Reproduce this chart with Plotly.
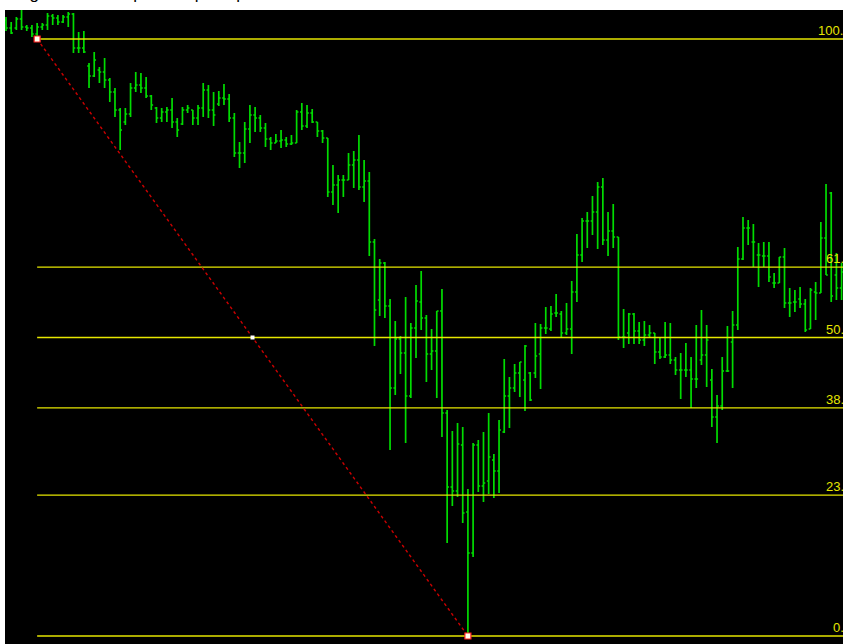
import plotly.graph_objects as go

# ---- data (bar index, OHLC prices) ----
bar_index = list(range(162))

open_ = [1.3416,1.3408,1.3408,1.3417,1.3409,1.3408,1.3402,1.3409,1.3411,1.3420,
         1.3418,1.3414,1.3419,1.3422,1.3388,1.3388,1.3370,1.3360,1.3366,1.3364,
         1.3356,1.3344,1.3326,1.3314,1.3322,1.3348,1.3351,1.3348,1.3340,1.3328,
         1.3318,1.3324,1.3326,1.3314,1.3312,1.3326,1.3326,1.3318,1.3328,1.3346,
         1.3326,1.3332,1.3338,1.3337,1.3318,1.3283,1.3283,1.3307,1.3321,1.3318,
         1.3308,1.3297,1.3293,1.3295,1.3296,1.3292,1.3293,1.3324,1.3310,1.3323,
         1.3314,1.3305,1.3298,1.3244,1.3251,1.3256,1.3256,1.3271,1.3276,1.3249,
         1.3255,1.3194,1.3136,1.3173,1.3130,1.3048,1.3097,1.3083,1.3040,1.3108,
         1.3134,1.3118,1.3082,1.3085,1.3125,1.3023,1.2949,1.2945,1.2991,1.2924,
         1.2883,1.2991,1.2950,1.2955,1.2976,1.2965,1.3004,1.3040,1.3048,1.3063,
         1.3056,1.3063,1.3063,1.3082,1.3108,1.3107,1.3123,1.3122,1.3103,1.3107,
         1.3144,1.3181,1.3215,1.3215,1.3224,1.3249,1.3196,1.3205,1.3199,1.3099,
         1.3103,1.3122,1.3105,1.3096,1.3101,1.3103,1.3084,1.3079,1.3081,1.3076,
         1.3066,1.3066,1.3066,1.3057,1.3076,1.3081,1.3056,1.3019,1.3030,1.3065,
         1.3094,1.3111,1.3177,1.3208,1.3194,1.3181,1.3180,1.3180,1.3153,1.3153,
         1.3179,1.3133,1.3134,1.3137,1.3132,1.3107,1.3144,1.3143,1.3198,1.3243,
         1.3161,1.3148]

high = [1.3419,1.3414,1.3419,1.3426,1.3411,1.3411,1.3413,1.3413,1.3423,1.3422,
        1.3421,1.3421,1.3424,1.3423,1.3404,1.3405,1.3373,1.3384,1.3369,1.3378,
        1.3358,1.3348,1.3328,1.3328,1.3353,1.3364,1.3363,1.3359,1.3341,1.3329,
        1.3328,1.3329,1.3338,1.3318,1.3329,1.3331,1.3326,1.3331,1.3353,1.3351,
        1.3344,1.3345,1.3352,1.3342,1.3323,1.3294,1.3314,1.3331,1.3329,1.3321,
        1.3313,1.3299,1.3302,1.3306,1.3299,1.3301,1.3326,1.3333,1.3331,1.3327,
        1.3314,1.3306,1.3298,1.3271,1.3261,1.3261,1.3283,1.3285,1.3301,1.3276,
        1.3264,1.3197,1.3177,1.3174,1.3137,1.3115,1.3100,1.3139,1.3113,1.3151,
        1.3165,1.3121,1.3107,1.3125,1.3147,1.3026,1.3005,1.3013,1.3009,1.2947,
        1.2993,1.2996,1.3004,1.3023,1.2982,1.3016,1.3077,1.3059,1.3072,1.3074,
        1.3091,1.3064,1.3113,1.3112,1.3129,1.3130,1.3142,1.3125,1.3133,1.3155,
        1.3202,1.3218,1.3224,1.3240,1.3254,1.3258,1.3224,1.3232,1.3199,1.3127,
        1.3123,1.3123,1.3114,1.3115,1.3111,1.3103,1.3099,1.3114,1.3113,1.3079,
        1.3083,1.3093,1.3079,1.3111,1.3126,1.3111,1.3067,1.3041,1.3079,1.3110,
        1.3125,1.3189,1.3219,1.3216,1.3212,1.3193,1.3194,1.3194,1.3163,1.3179,
        1.3188,1.3148,1.3146,1.3149,1.3137,1.3148,1.3154,1.3214,1.3252,1.3244,
        1.3183,1.3173]

low = [1.3405,1.3402,1.3406,1.3406,1.3405,1.3399,1.3399,1.3406,1.3406,1.3411,
       1.3411,1.3413,1.3409,1.3383,1.3383,1.3383,1.3348,1.3359,1.3353,1.3348,
       1.3334,1.3319,1.3286,1.3311,1.3319,1.3344,1.3343,1.3338,1.3326,1.3313,
       1.3314,1.3314,1.3308,1.3299,1.3311,1.3323,1.3311,1.3311,1.3319,1.3318,
       1.3310,1.3330,1.3331,1.3314,1.3279,1.3268,1.3273,1.3293,1.3304,1.3304,
       1.3289,1.3286,1.3293,1.3288,1.3289,1.3291,1.3293,1.3306,1.3308,1.3313,
       1.3299,1.3293,1.3239,1.3231,1.3223,1.3239,1.3256,1.3248,1.3246,1.3234,
       1.3180,1.3090,1.3120,1.3118,1.2986,1.3041,1.3062,1.2993,1.3038,1.3078,
       1.3106,1.3054,1.3066,1.3038,1.2999,1.2893,1.2930,1.2939,1.2913,1.2800,
       1.2879,1.2944,1.2934,1.2942,1.2938,1.2943,1.3003,1.3008,1.3044,1.3039,
       1.3025,1.3035,1.3058,1.3047,1.3102,1.3105,1.3119,1.3099,1.3101,1.3082,
       1.3134,1.3174,1.3188,1.3201,1.3187,1.3191,1.3180,1.3188,1.3096,1.3088,
       1.3092,1.3092,1.3092,1.3090,1.3099,1.3072,1.3077,1.3078,1.3072,1.3061,
       1.3037,1.3059,1.3028,1.3048,1.3071,1.3049,1.3009,1.2993,1.3026,1.3064,
       1.3048,1.3106,1.3176,1.3191,1.3169,1.3149,1.3169,1.3154,1.3148,1.3153,
       1.3128,1.3119,1.3124,1.3128,1.3104,1.3107,1.3116,1.3143,1.3161,1.3134,
       1.3136,1.3136]

close = [1.3408,1.3403,1.3417,1.3409,1.3408,1.3402,1.3409,1.3411,1.3420,1.3418,
         1.3414,1.3419,1.3422,1.3388,1.3388,1.3384,1.3360,1.3376,1.3364,1.3356,
         1.3344,1.3326,1.3306,1.3322,1.3348,1.3351,1.3348,1.3340,1.3331,1.3318,
         1.3324,1.3326,1.3314,1.3306,1.3326,1.3328,1.3318,1.3328,1.3346,1.3326,
         1.3321,1.3338,1.3337,1.3318,1.3283,1.3283,1.3307,1.3321,1.3318,1.3308,
         1.3297,1.3293,1.3295,1.3296,1.3292,1.3293,1.3324,1.3310,1.3323,1.3314,
         1.3305,1.3298,1.3244,1.3251,1.3256,1.3256,1.3271,1.3276,1.3249,1.3255,
         1.3194,1.3126,1.3173,1.3130,1.3048,1.3097,1.3083,1.3040,1.3108,1.3135,
         1.3118,1.3082,1.3085,1.3125,1.3023,1.2949,1.2945,1.2992,1.2923,1.2883,
         1.2991,1.2950,1.2953,1.2979,1.2965,1.3006,1.3040,1.3048,1.3063,1.3074,
         1.3090,1.3036,1.3080,1.3108,1.3108,1.3122,1.3123,1.3103,1.3107,1.3144,
         1.3181,1.3215,1.3215,1.3224,1.3249,1.3196,1.3205,1.3199,1.3099,1.3099,
         1.3122,1.3105,1.3096,1.3101,1.3103,1.3084,1.3079,1.3081,1.3076,1.3066,
         1.3066,1.3066,1.3057,1.3057,1.3081,1.3096,1.3019,1.3030,1.3065,1.3065,
         1.3111,1.3177,1.3208,1.3208,1.3194,1.3181,1.3180,1.3159,1.3153,1.3179,
         1.3133,1.3133,1.3134,1.3132,1.3106,1.3146,1.3143,1.3198,1.3161,1.3140,
         1.3148,1.3164]

# Fibonacci anchor points (bar index, price)
fib_start_bar = 6
fib_high = 1.3397
fib_end_bar = 89
fib_low = 1.2800
fib_ratios = [0.0, 0.236, 0.382, 0.5, 0.618, 1.0]
fib_labels = ["0.0", "23.6", "38.2", "50.0", "61.8", "100.0"]

caption = "Drag the cursor up to the price points of the chart"

BAR_GREEN = "#00dc00"
FIB_YELLOW = "#e6e600"
TREND_RED = "#cc0000"

fig = go.Figure()

fig.add_trace(go.Ohlc(
    x=bar_index, open=open_, high=high, low=low, close=close,
    increasing=dict(line=dict(color=BAR_GREEN, width=1.7)),
    decreasing=dict(line=dict(color=BAR_GREEN, width=1.7)),
    tickwidth=0.35, showlegend=False, hoverinfo="skip",
))

rng = fib_high - fib_low
for r, lab in zip(fib_ratios, fib_labels):
    lvl = fib_low + r * rng
    fig.add_trace(go.Scatter(
        x=[fib_start_bar, 200], y=[lvl, lvl], mode="lines",
        line=dict(color=FIB_YELLOW, width=1.3), showlegend=False, hoverinfo="skip",
    ))
    fig.add_annotation(
        x=1.0125, xref="paper", y=lvl, yref="y", text=lab, showarrow=False,
        xanchor="right", yanchor="bottom", yshift=-1,
        font=dict(family="Liberation Sans Narrow, Liberation Sans, Arial", size=13, color=FIB_YELLOW),
    )

# trend (anchor) line
fig.add_trace(go.Scatter(
    x=[fib_start_bar, fib_end_bar], y=[fib_high, fib_low], mode="lines",
    line=dict(color=TREND_RED, width=1.4, dash="3px,3px"),
    showlegend=False, hoverinfo="skip",
))
fig.add_trace(go.Scatter(
    x=[fib_start_bar, fib_end_bar], y=[fib_high, fib_low], mode="markers",
    marker=dict(symbol="square", size=6, color="#fffff0", line=dict(color="#ff2020", width=1.2)),
    showlegend=False, hoverinfo="skip", cliponaxis=False,
))
fig.add_trace(go.Scatter(
    x=[(fib_start_bar + fib_end_bar) / 2], y=[(fib_high + fib_low) / 2], mode="markers",
    marker=dict(symbol="square", size=4, color="#ffffff", line=dict(width=0)),
    showlegend=False, hoverinfo="skip",
))

fig.add_annotation(
    x=-0.006, xref="paper", y=1.0085, yref="paper", text=caption, showarrow=False,
    xanchor="left", yanchor="bottom",
    font=dict(family="Liberation Sans, Arial", size=17, color="#000000"),
)

fig.update_layout(
    width=843, height=644,
    margin=dict(l=5, r=0, t=10, b=0),
    paper_bgcolor="#ffffff", plot_bgcolor="#000000",
    xaxis=dict(range=[-0.19, 161.27], visible=False, rangeslider=dict(visible=False), fixedrange=True),
    yaxis=dict(range=[1.2792, 1.3426], visible=False, fixedrange=True),
    hovermode=False,
)

fig.write_html(
    "out.html",
    config={"displayModeBar": False, "staticPlot": True},
    post_script="document.body.style.margin='0';document.body.style.overflow='hidden';",
)
